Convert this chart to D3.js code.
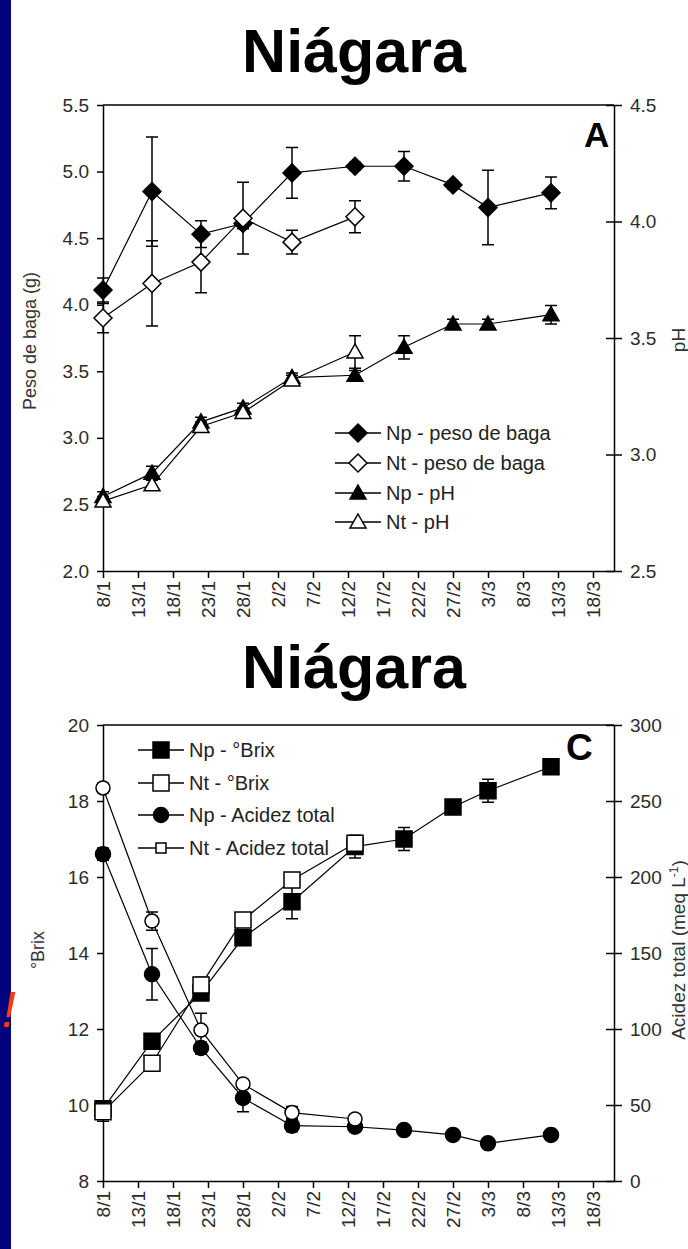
<!DOCTYPE html>
<meta charset="utf-8">
<script src="https://d3js.org/d3.v7.min.js"></script>
<style>
  body { margin: 0; background: #fff; }
  svg text { font-family: "Liberation Sans", Arial, sans-serif; }
</style>
<div id="chart"></div>
<script>
// sampling dates (2008 season, leap year)
var dates = ["2008-01-08", "2008-01-15", "2008-01-22", "2008-01-28", "2008-02-04",
             "2008-02-13", "2008-02-20", "2008-02-27", "2008-03-03", "2008-03-12"];
var tickDates = ["2008-01-08", "2008-01-13", "2008-01-18", "2008-01-23", "2008-01-28",
                 "2008-02-02", "2008-02-07", "2008-02-12", "2008-02-17", "2008-02-22",
                 "2008-02-27", "2008-03-03", "2008-03-08", "2008-03-13", "2008-03-18"];
var xStart = "2008-01-08", xEnd = "2008-03-21";

// panel A: peso de baga (g) and pH
var pesoNp    = [4.11, 4.85, 4.53, 4.61, 4.99, 5.04, 5.04, 4.90, 4.73, 4.84];
var pesoNpErr = [0.09, 0.41, 0.10, 0.04, 0.19, 0.03, 0.11, 0.03, 0.28, 0.12];
var pesoNt    = [3.90, 4.16, 4.32, 4.65, 4.47, 4.66];
var pesoNtErr = [0.11, 0.32, 0.23, 0.27, 0.09, 0.12];
var phNp      = [2.82, 2.92, 3.14, 3.20, 3.33, 3.34, 3.46, 3.56, 3.56, 3.60];
var phNpErr   = [0.02, 0.03, 0.02, 0.02, 0.02, 0.02, 0.05, 0.02, 0.02, 0.04];
var phNt      = [2.80, 2.87, 3.12, 3.18, 3.32, 3.44];
var phNtErr   = [0.02, 0.02, 0.02, 0.02, 0.02, 0.07];

// panel C: °Brix and acidez total (meq L-1)
var brixNp    = [9.90, 11.68, 12.95, 14.40, 15.35, 16.80, 17.00, 17.84, 18.27, 18.90];
var brixNpErr = [0.15, 0.10, 0.15, 0.10, 0.45, 0.30, 0.30, 0.10, 0.30, 0.05];
var brixNt    = [9.82, 11.10, 13.16, 14.87, 15.92, 16.89];
var brixNtErr = [0.25, 0.10, 0.20, 0.10, 0.10, 0.10];
var acidNp    = [215, 136, 87.5, 54.6, 36.4, 35.7, 33.5, 30.3, 24.8, 30.3];
var acidNpErr = [4, 17, 4, 9, 4, 3, 2, 3, 3, 3];
var acidNt    = [258.6, 171, 99.3, 63.8, 45, 40.8];
var acidNtErr = [3, 6, 11, 3, 4, 3];

var parse = d3.utcParse("%Y-%m-%d");
var fmtDay = d3.utcFormat("%-d/%-m");

var svg = d3.select("#chart").append("svg")
    .attr("width", 688)
    .attr("height", 1249);

svg.append("rect").attr("x", 0).attr("y", 0).attr("width", 11).attr("height", 1249)
    .attr("fill", "#030380");

svg.append("text").attr("x", 2).attr("y", 1027)
    .attr("font-size", 50).attr("font-style", "italic")
    .attr("fill", "#ff3a10").text("!");

// marker shapes
function shapePath(shape, s) {
  if (shape == "diamond") return "M0," + (-s) + "L" + s + ",0L0," + s + "L" + (-s) + ",0Z";
  if (shape == "triangle") return "M0," + (-s) + "L" + s + "," + (s * 0.75) + "L" + (-s) + "," + (s * 0.75) + "Z";
  if (shape == "square") return "M" + (-s) + "," + (-s) + "h" + (2 * s) + "v" + (2 * s) + "h" + (-2 * s) + "Z";
  // circle
  return d3.arc()({innerRadius: 0, outerRadius: s, startAngle: 0, endAngle: 2 * Math.PI});
}

function panel(p) {
  var g = svg.append("g");
  var x = d3.scaleUtc().domain([parse(xStart), parse(xEnd)]).range([103, 614]);
  var yL = d3.scaleLinear().domain(p.leftDomain).range([p.bottom, p.top]);
  var yR = d3.scaleLinear().domain(p.rightDomain).range([p.bottom, p.top]);

  // title
  svg.append("text").attr("x", 354).attr("y", p.titleY)
      .attr("text-anchor", "middle").attr("font-size", 61).attr("font-weight", "bold")
      .text("Niágara");

  // top frame line
  g.append("line").attr("x1", 103).attr("x2", 614).attr("y1", p.top).attr("y2", p.top)
      .attr("stroke", "#000").attr("stroke-width", 1.5);

  var gl = g.append("g").attr("transform", "translate(103,0)")
      .call(d3.axisLeft(yL).tickValues(p.leftTicks).tickFormat(p.leftFmt).tickSize(6).tickSizeOuter(0).tickPadding(8));
  var gr = g.append("g").attr("transform", "translate(614,0)")
      .call(d3.axisRight(yR).tickValues(p.rightTicks).tickFormat(p.rightFmt).tickSize(8).tickSizeOuter(0).tickPadding(8));
  gr.selectAll(".tick line").attr("x1", -8);
  var gb = g.append("g").attr("transform", "translate(0," + p.bottom + ")")
      .call(d3.axisBottom(x).tickValues(tickDates.map(parse)).tickFormat(fmtDay).tickSize(7).tickSizeOuter(0));
  gb.selectAll(".tick text")
      .attr("transform", "rotate(-90)")
      .attr("text-anchor", "end")
      .attr("x", -10).attr("y", 0).attr("dy", "0.35em");

  [gl, gr, gb].forEach(function (a) {
    a.selectAll("path, line").attr("stroke", "#000").attr("stroke-width", 1.5);
    a.selectAll("text").attr("font-size", 19).attr("fill", "#2b2b2b");
  });

  // axis titles
  g.append("text").attr("transform", "translate(" + p.leftLabelX + "," + p.leftLabelY + ") rotate(-90)")
      .attr("text-anchor", "middle").attr("font-size", 18).attr("fill", "#333").text(p.leftLabel);
  var rl = g.append("text").attr("transform", "translate(685," + p.rightLabelY + ") rotate(-90)")
      .attr("text-anchor", "middle").attr("font-size", 19).attr("fill", "#333");
  rl.append("tspan").text(p.rightLabel);
  if (p.rightSup) {
    rl.append("tspan").attr("font-size", 12).attr("dy", -7).text(p.rightSup);
    rl.append("tspan").attr("dy", 7).text(")");
  }

  // panel letter
  g.append("text").attr("x", p.letterX).attr("y", p.letterY)
      .attr("font-size", p.letterSize).attr("font-weight", "bold").text(p.letter);

  var yOf = function (s) { return s.axis == "L" ? yL : yR; };

  // lines
  p.series.forEach(function (s) {
    var pts = s.vals.map(function (v, i) { return [x(parse(dates[i])), yOf(s)(v)]; });
    g.append("path").attr("d", d3.line()(pts))
        .attr("fill", "none").attr("stroke", "#000").attr("stroke-width", 1.2);
  });
  // error bars
  p.series.forEach(function (s) {
    var y = yOf(s);
    s.vals.forEach(function (v, i) {
      var cx = x(parse(dates[i])), y1 = y(v + s.errs[i]), y2 = y(v - s.errs[i]);
      g.append("path")
          .attr("d", "M" + cx + "," + y1 + "V" + y2 + "M" + (cx - 6) + "," + y1 + "h12M" + (cx - 6) + "," + y2 + "h12")
          .attr("stroke", "#000").attr("stroke-width", 1.5).attr("fill", "none");
    });
  });
  // markers
  p.series.forEach(function (s) {
    var y = yOf(s);
    g.selectAll(null).data(s.vals).enter().append("path")
        .attr("transform", function (v, i) { return "translate(" + x(parse(dates[i])) + "," + y(v) + ")"; })
        .attr("d", shapePath(s.shape, s.size))
        .attr("fill", s.filled ? "#000" : "#fff")
        .attr("stroke", "#000").attr("stroke-width", 1.5);
  });

  // legend
  var lg = g.append("g");
  p.series.forEach(function (s, i) {
    var ly = p.legendRows[i];
    lg.append("line").attr("x1", p.legendX).attr("x2", p.legendX + 46).attr("y1", ly).attr("y2", ly)
        .attr("stroke", "#000").attr("stroke-width", 1.5);
    lg.append("path").attr("transform", "translate(" + (p.legendX + 23) + "," + ly + ")")
        .attr("d", shapePath(s.legendShape || s.shape, s.legendSize || s.size))
        .attr("fill", s.filled ? "#000" : "#fff")
        .attr("stroke", "#000").attr("stroke-width", 1.5);
    lg.append("text").attr("x", p.legendX + 51).attr("y", ly).attr("dy", "0.35em")
        .attr("font-size", 20).attr("fill", "#222").text(s.name);
  });
}

panel({
  top: 105, bottom: 571, titleY: 72,
  leftDomain: [2, 5.5], leftTicks: [2, 2.5, 3, 3.5, 4, 4.5, 5, 5.5], leftFmt: d3.format(".1f"),
  rightDomain: [2.5, 4.5], rightTicks: [2.5, 3, 3.5, 4, 4.5], rightFmt: d3.format(".1f"),
  leftLabel: "Peso de baga (g)", leftLabelX: 36, leftLabelY: 341,
  rightLabel: "pH", rightLabelY: 340,
  letter: "A", letterX: 584, letterY: 147, letterSize: 35,
  legendX: 335, legendRows: [433, 463, 493, 522],
  series: [
    {name: "Np - peso de baga", vals: pesoNp, errs: pesoNpErr, axis: "L", shape: "diamond", size: 9, filled: true},
    {name: "Nt - peso de baga", vals: pesoNt, errs: pesoNtErr, axis: "L", shape: "diamond", size: 9, filled: false},
    {name: "Np - pH", vals: phNp, errs: phNpErr, axis: "R", shape: "triangle", size: 8, filled: true},
    {name: "Nt - pH", vals: phNt, errs: phNtErr, axis: "R", shape: "triangle", size: 8, filled: false}
  ]
});

panel({
  top: 725, bottom: 1181, titleY: 688,
  leftDomain: [8, 20], leftTicks: [8, 10, 12, 14, 16, 18, 20], leftFmt: d3.format("d"),
  rightDomain: [0, 300], rightTicks: [0, 50, 100, 150, 200, 250, 300], rightFmt: d3.format("d"),
  leftLabel: "°Brix", leftLabelX: 44, leftLabelY: 950,
  rightLabel: "Acidez total (meq L", rightSup: "-1", rightLabelY: 950,
  letter: "C", letterX: 566, letterY: 760, letterSize: 37,
  legendX: 138, legendRows: [750, 783, 815, 848],
  series: [
    {name: "Np - °Brix", vals: brixNp, errs: brixNpErr, axis: "L", shape: "square", size: 8, filled: true},
    {name: "Nt - °Brix", vals: brixNt, errs: brixNtErr, axis: "L", shape: "square", size: 8, filled: false},
    {name: "Np - Acidez total", vals: acidNp, errs: acidNpErr, axis: "R", shape: "circle", size: 7.5, filled: true},
    {name: "Nt - Acidez total", vals: acidNt, errs: acidNtErr, axis: "R", shape: "circle", size: 7, filled: false,
     legendShape: "square", legendSize: 5}
  ]
});
</script>
